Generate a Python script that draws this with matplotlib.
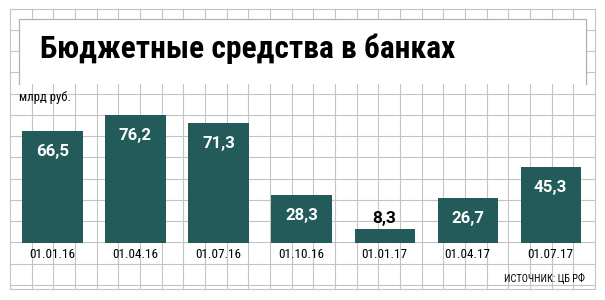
import matplotlib
matplotlib.use('Agg')
import matplotlib.pyplot as plt
from matplotlib.patches import Rectangle
from matplotlib import font_manager as fm

dates = ['01.01.16', '01.04.16', '01.07.16', '01.10.16', '01.01.17', '01.04.17', '01.07.17']
values = [66.5, 76.2, 71.3, 28.3, 8.3, 26.7, 45.3]
labels = ['66,5', '76,2', '71,3', '28,3', '8,3', '26,7', '45,3']

title = 'Бюджетные средства в банках'
unit = 'млрд руб.'
source = 'ИСТОЧНИК: ЦБ РФ'

# pick the narrowest font that is actually installed
found = [(f.name, f.stretch) for f in fm.fontManager.ttflist]
narrow_name, narrow_stretch = 'DejaVu Sans', 'normal'
for name, st in [('Roboto Condensed', None), ('Liberation Sans Narrow', None),
                 ('DejaVu Sans', 'condensed'), ('Open Sans', 'condensed'),
                 ('Noto Sans', 'condensed'), ('Roboto', None)]:
    if any(n == name and (st is None or s == st) for n, s in found):
        narrow_name, narrow_stretch = name, (st or 'normal')
        break


def nfont(size, weight='normal'):
    return fm.FontProperties(family=narrow_name, stretch=narrow_stretch,
                             size=size, weight=weight)


bar_color = '#225b59'
grid_color = '#c4c4c4'

W, H = 605, 300
fig = plt.figure(figsize=(W / 100, H / 100), dpi=100)
renderer = fig.canvas.get_renderer()


def fit(txt, width_px):
    # shrink/grow the font so the text spans the width seen in the picture
    w = txt.get_window_extent(renderer).width
    txt.set_fontsize(txt.get_fontsize() * width_px / w)


# background in pixel coordinates: squared paper + title box
bg = fig.add_axes([0, 0, 1, 1])
bg.set_xlim(0, W)
bg.set_ylim(H, 0)
bg.axis('off')
x0, x1, y0, y1 = 10, 595, 8.5, 289
step_x = (x1 - x0) / 27
step_y = 21.25
for k in range(28):
    x = x0 + k * step_x
    bg.plot([x, x], [y0, y1], color=grid_color, lw=0.8, zorder=1)
y = y0
while y < y1:
    bg.plot([x0, x1], [y, y], color=grid_color, lw=0.8, zorder=1)
    y += step_y
bg.plot([x0, x1], [y1, y1], color=grid_color, lw=0.8, zorder=1)

bx0, bx1, by0, by1 = 19, 586, 19, 84
bg.add_patch(Rectangle((bx0, by0), bx1 - bx0, by1 - by0, facecolor='white',
                       edgecolor='none', zorder=2))
bg.plot([bx0, bx0, bx1, bx1], [by1, by0, by0, by1], color='#b0b0b0', lw=0.9, zorder=3)
t = bg.text(39.5, 58.5, title, fontproperties=nfont(24, 'heavy'),
            va='baseline', ha='left', zorder=4)
fit(t, 416)
u = bg.text(19, 97, unit, fontproperties=nfont(8.5), va='center', ha='left', zorder=4)
fit(u, 52)
s = bg.text(585, 278, source, fontproperties=nfont(8), va='center', ha='right', zorder=4)
fit(s, 81)

# bar chart
ax = fig.add_axes([10 / W, (H - 243) / H, 585 / W, 150 / H])
ax.patch.set_visible(False)
pos = list(range(len(values)))
ax.bar(pos, values, width=0.723, color=bar_color, zorder=3)
ax.set_xlim(-0.512, 6.536)
ax.set_ylim(0, 150 / 1.68)
for sp in ax.spines.values():
    sp.set_visible(False)
ax.set_yticks([])
ax.set_xticks(pos)
ax.set_xticklabels(dates)
ax.tick_params(axis='x', length=0, pad=3.5)
for lab in ax.get_xticklabels():
    lab.set_fontproperties(nfont(9.5))
    fit(lab, 46)

for i, (v, lab) in enumerate(zip(values, labels)):
    if v < 15:
        tt = ax.text(i, v + 6.5, lab, ha='center', va='center', fontsize=12,
                     fontweight='bold', color='black', family='Roboto')
    else:
        tt = ax.text(i, v - 12, lab, ha='center', va='center', fontsize=12,
                     fontweight='bold', color='white', family='Roboto')
    fit(tt, 33 if len(lab) == 4 else 24)

fig.savefig('out.png', dpi=100, facecolor='white')
